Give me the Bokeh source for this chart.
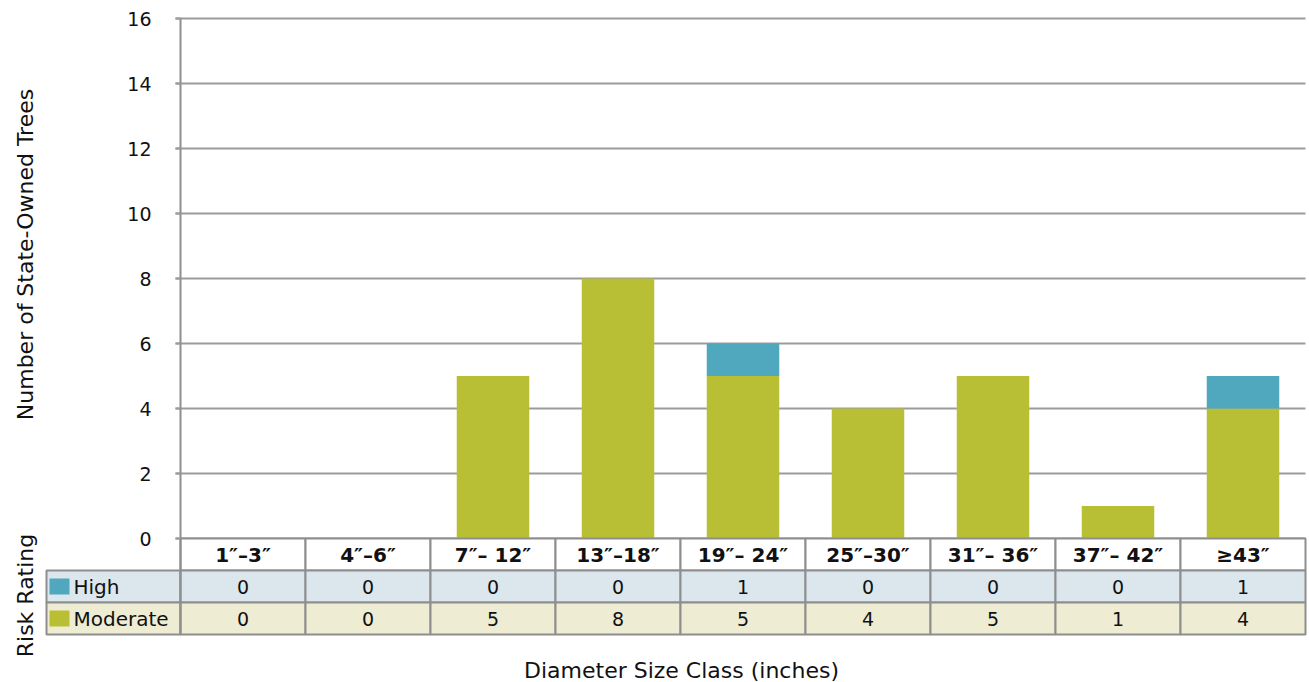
import math
from bokeh.plotting import figure
from bokeh.models import Range1d, FixedTicker
from bokeh.core.properties import value
from bokeh.embed import file_html
from bokeh.resources import INLINE

# ---------------- data ----------------
categories = ["1\u2033\u20133\u2033", "4\u2033\u20136\u2033", "7\u2033\u2013 12\u2033", "13\u2033\u201318\u2033",
              "19\u2033\u2013 24\u2033", "25\u2033\u201330\u2033", "31\u2033\u2013 36\u2033",
              "37\u2033\u2013 42\u2033", "\u226543\u2033"]
high = [0, 0, 0, 0, 1, 0, 0, 0, 1]
moderate = [0, 0, 5, 8, 5, 4, 5, 1, 4]
series_names = ["High", "Moderate"]
y_ticks = [0, 2, 4, 6, 8, 10, 12, 14, 16]
y_title = "Number of State-Owned Trees"
table_title = "Risk Rating"
x_title = "Diameter Size Class (inches)"

# ---------------- layout helpers ----------------
FONT = "DejaVu Sans"
W, H = 1309, 682
X0 = 180.0      # canvas x of data x = 0
PXX = 125.0     # px per category
Y0 = 538.0      # canvas y of data y = 0
PXY = 32.5      # px per tree
TEXT = "#111111"
BORDER = "#8e8e8e"
GRID = "#9b9b9b"
C_HIGH = "#4fa8bd"
C_MOD = "#b9bf35"


def dx(px):
    return (px - X0) / PXX


def dy(py):
    return (Y0 - py) / PXY


ROW = 32.0 / PXY

p = figure(width=W, height=H, output_backend="svg", toolbar_location=None,
           x_range=Range1d(dx(0), dx(W)), y_range=Range1d(dy(H), dy(0)),
           x_axis_location=None, min_border_left=0, min_border_right=0,
           min_border_top=0, min_border_bottom=0)
p.outline_line_color = None
p.grid.visible = False
p.background_fill_color = "white"
p.border_fill_color = "white"

n = len(categories)
xs = [i + 0.5 for i in range(n)]
table_bottom = -3 * ROW

# gridlines (with tick stubs)
p.segment(x0=[-5 / PXX] * len(y_ticks), x1=[n] * len(y_ticks), y0=y_ticks, y1=y_ticks,
          line_color=GRID, line_width=2)

# stacked bars
tops_high = [m + h for m, h in zip(moderate, high)]
p.vbar(x=xs, width=0.58, bottom=0, top=moderate, fill_color=C_MOD, line_color=None)
p.vbar(x=xs, width=0.58, bottom=moderate, top=tops_high, fill_color=C_HIGH, line_color=None)

# table cells
lefts = list(range(n))
rights = [i + 1 for i in range(n)]
leg_left = dx(46)
p.quad(left=lefts, right=rights, top=[0] * n, bottom=[-ROW] * n,
       fill_color="white", line_color=BORDER, line_width=2)
p.quad(left=[leg_left] + lefts, right=[0] + rights, top=[-ROW] * (n + 1), bottom=[-2 * ROW] * (n + 1),
       fill_color="#dbe7ed", line_color=BORDER, line_width=2)
p.quad(left=[leg_left] + lefts, right=[0] + rights, top=[-2 * ROW] * (n + 1), bottom=[-3 * ROW] * (n + 1),
       fill_color="#eeecd3", line_color=BORDER, line_width=2)

# header labels
p.text(x=xs, y=[-ROW / 2] * n, text=categories, text_align="center", text_baseline="middle",
       text_font=value(FONT), text_font_style="bold", text_font_size="20px", text_color=TEXT)
# values
p.text(x=xs, y=[-1.5 * ROW] * n, text=[str(v) for v in high], text_align="center",
       text_baseline="middle", text_font=value(FONT), text_font_size="19px", text_color=TEXT)
p.text(x=xs, y=[-2.5 * ROW] * n, text=[str(v) for v in moderate], text_align="center",
       text_baseline="middle", text_font=value(FONT), text_font_size="19px", text_color=TEXT)

# legend swatches and names
p.rect(x=[dx(59)] * 2, y=[-1.5 * ROW, -2.5 * ROW], width=20 / PXX, height=16 / PXY,
       fill_color=[C_HIGH, C_MOD], line_color=None)
p.text(x=[dx(73)] * 2, y=[-1.5 * ROW, -2.5 * ROW], text=series_names, text_align="left",
       text_baseline="middle", text_font=value(FONT), text_font_size="20px", text_color=TEXT)

# y axis
ax = p.yaxis[0]
ax.fixed_location = 0
ax.bounds = (table_bottom, 16)
ax.ticker = FixedTicker(ticks=y_ticks)
ax.axis_line_color = BORDER
ax.axis_line_width = 2
ax.major_tick_in = 0
ax.major_tick_out = 5
ax.major_tick_line_color = GRID
ax.major_tick_line_width = 2
ax.minor_tick_line_color = None
ax.major_label_standoff = 24
ax.major_label_text_font = FONT
ax.major_label_text_font_size = "19px"
ax.major_label_text_color = TEXT

# titles
p.text(x=[dx(25), dx(25)], y=[dy(254), dy(595)], text=[y_title, table_title], angle=math.pi / 2,
       text_align="center", text_baseline="middle", text_font=value(FONT),
       text_font_size="22px", text_color=TEXT)
p.text(x=[dx(681)], y=[dy(670)], text=[x_title], text_align="center", text_baseline="middle",
       text_font=value(FONT), text_font_size="22px", text_color=TEXT)

open("out.html", "w").write(file_html(p, INLINE))
